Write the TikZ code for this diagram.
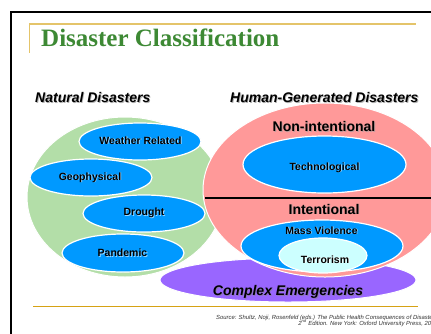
\documentclass[tikz,border=0pt]{standalone}
\usepackage{fontspec}
\setmainfont{Liberation Serif}
\setsansfont{Liberation Sans}
\usetikzlibrary{shapes.geometric}
\definecolor{titlegreen}{RGB}{61,137,52}
\definecolor{goldtop}{RGB}{228,196,106}
\definecolor{goldbot}{RGB}{214,162,20}
\definecolor{natgreen}{RGB}{179,222,168}
\definecolor{humred}{RGB}{255,153,153}
\definecolor{ellblue}{RGB}{0,153,255}
\definecolor{lightcyan}{RGB}{204,255,255}
\definecolor{cepurple}{RGB}{153,102,255}
\newcommand{\shd}[2][black!30]{\makebox[0pt][l]{\kern0.9pt\raisebox{-0.9pt}{\textcolor{#1}{#2}}}#2}
\tikzset{
  blob/.style={ellipse, inner sep=0pt, draw=white, line width=1pt},
  blueell/.style={blob, fill=ellblue, line width=1.2pt},
  lab/.style={anchor=base, inner sep=0pt, font=\sffamily\bfseries\fontsize{10.5}{12}\selectfont},
  biglab/.style={anchor=base, inner sep=0pt, font=\sffamily\bfseries\fontsize{14}{16}\selectfont},
  headlab/.style={anchor=base west, inner sep=0pt, font=\sffamily\bfseries\itshape\fontsize{14}{16}\selectfont},
  srclab/.style={inner sep=0pt, font=\sffamily\itshape\fontsize{5.9}{6.5}\selectfont, text=black!80}
}
\begin{document}
\begin{tikzpicture}[x=1pt,y=-1pt]
\useasboundingbox (0,0) rectangle (431,333);
\fill[white] (0,0) rectangle (431,333);
% slide frame
\draw[line width=2.2pt] (445,12) -- (11,12) -- (11,345);
% title rules
\draw[goldtop, line width=2pt] (29,24) -- (416,24);
\draw[goldtop, line width=1pt] (29,24) -- (29,53);
\node[anchor=base west, inner sep=0pt, text=titlegreen, font=\bfseries\fontsize{25}{28}\selectfont] (title) at (41,46) {Disaster Classification};
% headings
\node[headlab] (nat) at (35,102.5) {\shd{Natural Disasters}};
\node[headlab] (hum) at (230,102.5) {\shd{Human-Generated Disasters}};
% complex emergencies
\node[blob, fill=cepurple, minimum width=256pt, minimum height=44pt] (ce) at (288,280) {};
% natural
\node[blob, fill=natgreen, minimum width=196pt, minimum height=160pt] (natell) at (125,197) {};
% human
\node[blob, fill=humred, minimum width=244pt, minimum height=174pt] (humell) at (325,190) {};
\node[blueell, minimum width=122pt, minimum height=37pt] (wr) at (140,141.5) {};
\node[blueell, minimum width=122pt, minimum height=37pt] (geo) at (91,177.5) {};
\node[blueell, minimum width=122pt, minimum height=37pt] (dr) at (144,213.5) {};
\node[blueell, minimum width=122pt, minimum height=38pt] (pan) at (123,253) {};
\node[lab] (wrl) at (140.5,144) {\shd[white!60!ellblue]{Weather Related}};
\node[lab] (geol) at (90,180) {\shd[white!60!ellblue]{Geophysical}};
\node[lab] (drl) at (144,215.5) {\shd[white!60!ellblue]{Drought}};
\node[lab] (panl) at (122.5,256.5) {\shd[white!60!ellblue]{Pandemic}};
% human inner
\node[blueell, minimum width=163pt, minimum height=57pt] (tech) at (324.5,164.5) {};
\node[blueell, minimum width=162pt, minimum height=52pt] (mv) at (322,246) {};
\node[blob, fill=lightcyan, minimum width=88pt, minimum height=35pt, line width=1.2pt] (ter) at (323,255.5) {};
\coordinate (divl) at (205,198);
\coordinate (divr) at (440,198);
\draw[line width=2pt] (divl) -- (divr);
\node[biglab] (nonint) at (324,131.5) {\shd[humred!60!black!60]{Non-intentional}};
\node[biglab] (int) at (324,214) {\shd[humred!60!black!60]{Intentional}};
\node[lab] (techl) at (324.5,170) {\shd[white!60!ellblue]{Technological}};
\node[lab] (mvl) at (321.5,234) {\shd[white!60!ellblue]{Mass Violence}};
\node[lab] (terl) at (325,263) {\shd[white!80]{Terrorism}};
\node[headlab, anchor=base] (cel) at (288,295.5) {\shd[cepurple!60!black!70]{Complex Emergencies}};
% bottom rule and source
\draw[goldbot, line width=1pt] (33,306) -- (418,306);
\node[srclab, anchor=base west] (src1) at (216,319) {Source: Shultz, Noji, Rosenfeld (eds.) The Public Health Consequences of Disasters};
\node[srclab, anchor=base east] (src2) at ([yshift=-6pt]src1.base east) {2\textsuperscript{nd} Edition. New York: Oxford University Press, 2005};
\end{tikzpicture}
\end{document}
